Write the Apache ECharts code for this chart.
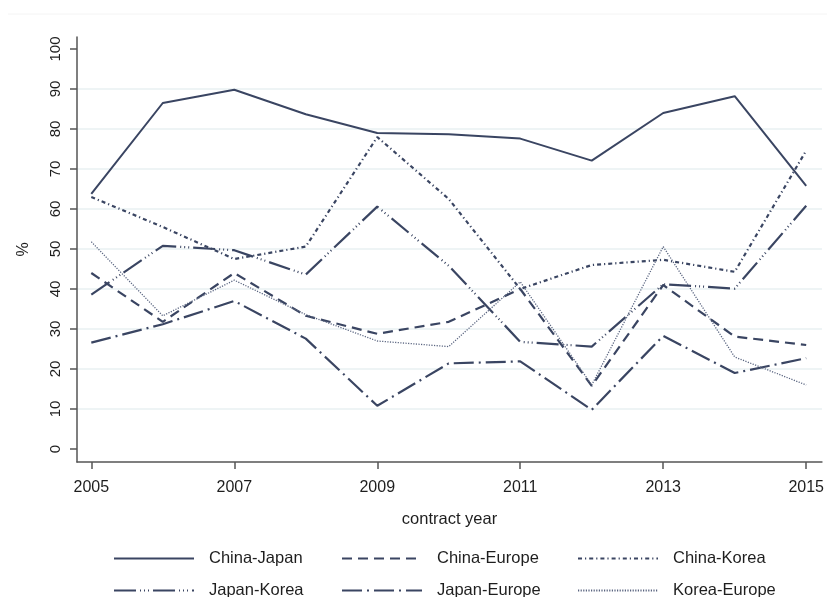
<!DOCTYPE html>
<html>
<head>
<meta charset="utf-8">
<script src="https://cdn.jsdelivr.net/npm/echarts@6/dist/echarts.min.js"></script>
<style>
  html, body { margin: 0; padding: 0; background: #ffffff; }
  #chart { width: 827px; height: 597px; }
</style>
</head>
<body>
<div id="chart"></div>
<script>
// Contract years and share (%) per country pair
const years = [2005, 2006, 2007, 2008, 2009, 2010, 2011, 2012, 2013, 2014, 2015];
const chinaJapan  = [63.8, 86.5, 89.8, 83.7, 79.0, 78.7, 77.6, 72.1, 84.0, 88.2, 65.8];
const chinaEurope = [44.0, 31.8, 44.0, 33.3, 28.8, 31.8, 40.0, 15.8, 41.0, 28.1, 26.0];
const chinaKorea  = [63.0, 55.5, 47.5, 50.6, 78.0, 62.5, 40.0, 46.0, 47.3, 44.3, 74.6];
const japanKorea  = [38.6, 50.8, 49.7, 43.6, 60.6, 45.8, 26.8, 25.6, 41.2, 40.1, 60.8];
const japanEurope = [26.6, 31.2, 37.0, 27.6, 10.8, 21.4, 21.9, 9.8, 28.3, 19.0, 22.7];
const koreaEurope = [51.8, 33.3, 42.2, 33.6, 27.0, 25.6, 41.8, 16.0, 50.6, 23.0, 16.0];

const xTicks = [2005, 2007, 2009, 2011, 2013, 2015];
const yTicks = [0, 10, 20, 30, 40, 50, 60, 70, 80, 90, 100];

const ink = '#3a4562';
const textColor = '#1e1e1e';
const font = 'Liberation Sans, Arial, sans-serif';

function pairs(vals) { return years.map((y, i) => [y, vals[i]]); }

function lineSeries(name, vals, dash, width, color) {
  return {
    name: name,
    type: 'line',
    data: pairs(vals),
    symbol: 'none',
    smooth: false,
    animation: false,
    lineStyle: { color: color || ink, width: width, type: dash, cap: 'butt' },
    itemStyle: { color: color || ink }
  };
}

const series = [
  lineSeries('China-Japan', chinaJapan, 'solid', 2),
  lineSeries('China-Europe', chinaEurope, [10, 6], 2.2),
  lineSeries('China-Korea', chinaKorea, [4, 3, 1.2, 3], 2.2),
  lineSeries('Japan-Korea', japanKorea, [22, 4, 1, 3, 1, 3, 1, 4], 2.2),
  lineSeries('Japan-Europe', japanEurope, [20, 5, 2, 5], 2.2),
  lineSeries('Korea-Europe', koreaEurope, [1.2, 1.4], 1.3, '#5a6580')
];

// one legend entry per slot: two rows of three columns
function legendItem(left, top, name) {
  return {
    left: left,
    top: top,
    padding: 0,
    itemWidth: 80,
    itemHeight: 16,
    data: [name],
    selectedMode: false,
    itemStyle: { opacity: 0, borderWidth: 0 },
    textStyle: { fontFamily: font, fontSize: 16.5, color: textColor, padding: [0, 0, 0, 10] }
  };
}

const gridColors = ['rgba(0,0,0,0)'].concat(Array(9).fill('#e8f0f2')).concat(['rgba(0,0,0,0)']);

const option = {
  backgroundColor: '#ffffff',
  animation: false,
  grid: { left: 77, right: 5, top: 37, bottom: 135, containLabel: false },
  graphic: [{
    type: 'line',
    shape: { x1: 8, y1: 14, x2: 827, y2: 14 },
    style: { stroke: '#f4f4f4', lineWidth: 1 },
    silent: true
  }],
  xAxis: {
    type: 'value',
    min: 2004.8,
    max: 2015.22,
    name: 'contract year',
    nameLocation: 'middle',
    nameGap: 49,
    nameTextStyle: { fontFamily: font, fontSize: 16.5, color: textColor },
    axisLine: { show: true, onZero: false, lineStyle: { color: '#555555', width: 1.5 } },
    axisTick: { show: true, length: 7, customValues: xTicks, lineStyle: { color: '#555555', width: 1.5 } },
    axisLabel: {
      customValues: xTicks,
      margin: 18,
      fontFamily: font,
      fontSize: 16,
      color: textColor,
      formatter: v => String(Math.round(v))
    },
    splitLine: { show: false }
  },
  yAxis: {
    type: 'value',
    min: -3.25,
    max: 103,
    name: '%',
    nameLocation: 'middle',
    nameRotate: 90,
    nameGap: 45,
    nameTextStyle: { fontFamily: font, fontSize: 16, color: textColor },
    axisLine: { show: true, onZero: false, lineStyle: { color: '#555555', width: 1.5 } },
    axisTick: { show: true, length: 7, customValues: yTicks, lineStyle: { color: '#555555', width: 1.5 } },
    axisLabel: {
      customValues: yTicks,
      rotate: 90,
      margin: 14,
      fontFamily: font,
      fontSize: 15,
      color: textColor
    },
    splitLine: { show: true, lineStyle: { color: gridColors, width: 1.5 } }
  },
  legend: [
    legendItem(113, 550, 'China-Japan'),
    legendItem(341, 550, 'China-Europe'),
    legendItem(577, 550, 'China-Korea'),
    legendItem(113, 582, 'Japan-Korea'),
    legendItem(341, 582, 'Japan-Europe'),
    legendItem(577, 582, 'Korea-Europe')
  ],
  series: series
};

const chart = echarts.init(document.getElementById('chart'), null, { renderer: 'canvas' });
chart.setOption(option);
</script>
</body>
</html>
